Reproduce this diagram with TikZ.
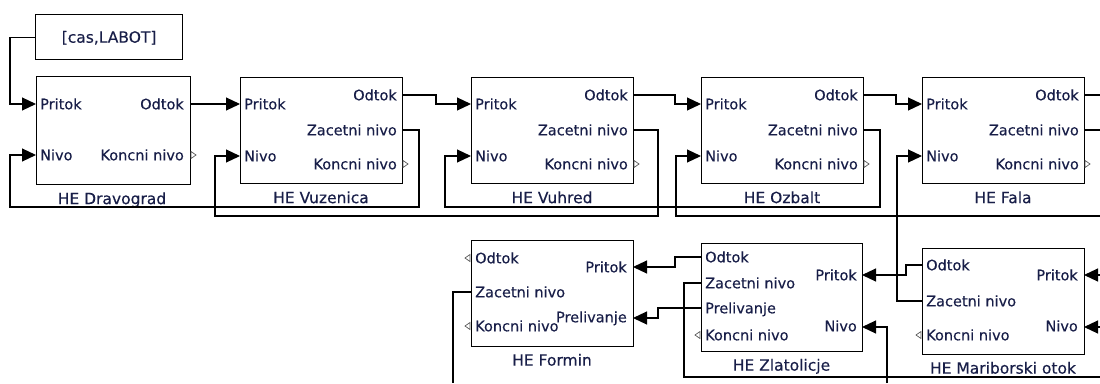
\documentclass[tikz,border=0pt]{standalone}
\usepackage{fontspec}
\setmainfont{DejaVu Sans}
\newfontfamily\lblfont{DejaVu Sans}[FakeBold=0.3]
\usetikzlibrary{arrows.meta}
\definecolor{txt}{RGB}{24,30,72}
\begin{document}
\begin{tikzpicture}[x=1pt,y=-1pt,
  blk/.style={draw=black, line width=1.2pt, fill=white, inner sep=0pt, anchor=north west},
  plab/.style={text=txt, font=\lblfont\fontsize{14.5}{16}\selectfont, inner sep=0pt, text height=10.6pt, text depth=0pt},
  ttl/.style={text=txt, font=\lblfont\fontsize{15.5}{17}\selectfont, inner sep=0pt, text height=11.2pt, text depth=0pt},
  wire/.style={draw=black, line width=1.1pt},
  arr/.style={wire, -{Triangle[length=14pt,width=13pt]}},
  oport/.style={draw=black!65, line width=0.7pt, fill=white},
  openR/.pic={\draw[oport] (1,-3.5) -- (6,0) -- (1,3.5) -- cycle;},
  openL/.pic={\draw[oport] (-1,-3.5) -- (-6,0) -- (-1,3.5) -- cycle;}
]
% canvas
\fill[white] (0,0) rectangle (1100,383);
\useasboundingbox (0,0) rectangle (1100,383);

% ---------------- blocks ----------------
\node[blk, minimum width=147, minimum height=45] (lab) at (35,14) {};
\node[ttl] (labtxt) at (lab.center) {[cas,LABOT]};

\node[blk, minimum width=154, minimum height=108] (drav) at (36,76) {};
\node[blk, minimum width=162, minimum height=106] (vuz) at (240,77) {};
\node[blk, minimum width=162, minimum height=106] (vuh) at (471,77) {};
\node[blk, minimum width=162, minimum height=106] (ozb) at (701,77) {};
\node[blk, minimum width=162, minimum height=106] (fala) at (922,77) {};
\node[blk, minimum width=162, minimum height=106] (for) at (471,240) {};
\node[blk, minimum width=161, minimum height=108] (zla) at (701,243) {};
\node[blk, minimum width=162, minimum height=106] (mar) at (922,248) {};

% ---------------- ports ----------------
\coordinate (drav-pr) at (36,104);  \coordinate (drav-nv) at (36,155);
\coordinate (drav-od) at (190,104); \coordinate (drav-kn) at (190,155);

\coordinate (vuz-pr) at (240,104); \coordinate (vuz-nv) at (240,156);
\coordinate (vuz-od) at (402,95);  \coordinate (vuz-zn) at (402,130); \coordinate (vuz-kn) at (402,164);

\coordinate (vuh-pr) at (471,104); \coordinate (vuh-nv) at (471,156);
\coordinate (vuh-od) at (633,95);  \coordinate (vuh-zn) at (633,130); \coordinate (vuh-kn) at (633,164);

\coordinate (ozb-pr) at (701,104); \coordinate (ozb-nv) at (701,156);
\coordinate (ozb-od) at (863,95);  \coordinate (ozb-zn) at (863,130); \coordinate (ozb-kn) at (863,164);

\coordinate (fala-pr) at (922,104); \coordinate (fala-nv) at (922,156);
\coordinate (fala-od) at (1084,95); \coordinate (fala-zn) at (1084,130); \coordinate (fala-kn) at (1084,164);

\coordinate (for-od) at (471,258); \coordinate (for-zn) at (471,292); \coordinate (for-kn) at (471,326);
\coordinate (for-pr) at (633,267); \coordinate (for-pl) at (633,318);

\coordinate (zla-od) at (701,257); \coordinate (zla-zn) at (701,283);
\coordinate (zla-pl) at (701,308); \coordinate (zla-kn) at (701,335);
\coordinate (zla-pr) at (862,275); \coordinate (zla-nv) at (862,327);

\coordinate (mar-od) at (922,265); \coordinate (mar-zn) at (922,301); \coordinate (mar-kn) at (922,335);
\coordinate (mar-pr) at (1084,275); \coordinate (mar-nv) at (1084,327);

% signals continuing beyond the visible area
\coordinate (offA) at (1100,216);
\coordinate (offB) at (1100,95);
\coordinate (offC) at (1100,130);
\coordinate (offD) at (1100,275);
\coordinate (offE) at (1100,327);
\coordinate (offF) at (1100,377);
\coordinate (offG) at (887,383);
\coordinate (offH) at (453,383);

% ---------------- port labels ----------------
\node[plab, anchor=west] at (40,104) {Pritok};
\node[plab, anchor=west] at (40,155) {Nivo};
\node[plab, anchor=east] at (184,104) {Odtok};
\node[plab, anchor=east] at (184,155) {Koncni nivo};

\foreach \b/\l/\r in {vuz/240/402, vuh/471/633, ozb/701/863, fala/922/1084}{
  \node[plab, anchor=west] at (\l+4,104) {Pritok};
  \node[plab, anchor=west] at (\l+4,156) {Nivo};
  \node[plab, anchor=east] at (\r-5,95) {Odtok};
  \node[plab, anchor=east] at (\r-5,130) {Zacetni nivo};
  \node[plab, anchor=east] at (\r-5,164) {Koncni nivo};
}

\node[plab, anchor=west] at (475,258) {Odtok};
\node[plab, anchor=west] at (475,292) {Zacetni nivo};
\node[plab, anchor=west] at (475,326) {Koncni nivo};
\node[plab, anchor=east] at (627,267) {Pritok};
\node[plab, anchor=east] at (627,317) {Prelivanje};

\node[plab, anchor=west] at (705,257) {Odtok};
\node[plab, anchor=west] at (705,283) {Zacetni nivo};
\node[plab, anchor=west] at (705,308) {Prelivanje};
\node[plab, anchor=west] at (705,335) {Koncni nivo};
\node[plab, anchor=east] at (857,275) {Pritok};
\node[plab, anchor=east] at (857,326) {Nivo};

\node[plab, anchor=west] at (926,265) {Odtok};
\node[plab, anchor=west] at (926,301) {Zacetni nivo};
\node[plab, anchor=west] at (926,335) {Koncni nivo};
\node[plab, anchor=east] at (1078,275) {Pritok};
\node[plab, anchor=east] at (1078,326) {Nivo};

% ---------------- block titles ----------------
\node[ttl] (drav-t) at (112,198.5) {HE Dravograd};
\node[ttl] (vuz-t) at (321,197.5) {HE Vuzenica};
\node[ttl] (vuh-t) at (552,197.5) {HE Vuhred};
\node[ttl] (ozb-t) at (782,197.5) {HE Ozbalt};
\node[ttl] (fala-t) at (1003,197.5) {HE Fala};
\node[ttl] (for-t) at (552,360) {HE Formin};
\node[ttl] (zla-t) at (781.5,365) {HE Zlatolicje};
\node[ttl] (mar-t) at (1003,368) {HE Mariborski otok};

% ---------------- unconnected outputs ----------------
\pic at (drav-kn) {openR};
\pic at (vuz-kn) {openR};
\pic at (vuh-kn) {openR};
\pic at (ozb-kn) {openR};
\pic at (fala-kn) {openR};
\pic at (for-od) {openL};
\pic at (for-kn) {openL};
\pic at (zla-kn) {openL};
\pic at (mar-kn) {openL};

% ---------------- signal lines ----------------
\draw[arr] (lab.west) -- ++(-25,0) |- (drav-pr);
\draw[arr] (drav-od) -- (vuz-pr);
\draw[arr] (vuz-od) -- ++(34,0) |- (vuh-pr);
\draw[arr] (vuh-od) -- ++(42,0) |- (ozb-pr);
\draw[arr] (ozb-od) -- ++(33,0) |- (fala-pr);
\draw[wire] (fala-od) -- (offB);
\draw[wire] (fala-zn) -- (offC);

% level feedback from each downstream plant
\draw[arr] (vuz-zn) -- ++(17,0) -- ++(0,77) -| ([xshift=-26pt]drav-nv) -- (drav-nv);
\draw[arr] (vuh-zn) -- ++(25,0) -- ++(0,86) -| ([xshift=-25pt]vuz-nv) -- (vuz-nv);
\draw[arr] (ozb-zn) -- ++(17,0) -- ++(0,77) -| ([xshift=-26pt]vuh-nv) -- (vuh-nv);
\draw[arr] (offA) -| ([xshift=-25pt]ozb-nv) -- (ozb-nv);
\draw[arr] (mar-zn) -- ++(-25,0) |- (fala-nv);

% lower chain
\draw[arr] (offD) -- (mar-pr);
\draw[arr] (offE) -- (mar-nv);
\draw[arr] (mar-od) -- ++(-16,0) |- (zla-pr);
\draw[arr] (offG) |- (zla-nv);
\draw[wire] (zla-zn) -- ++(-17,0) |- (offF);
\draw[arr] (zla-od) -- ++(-26,0) |- (for-pr);
\draw[arr] (zla-pl) -- ++(-43,0) |- (for-pl);
\draw[wire] (for-zn) -| (offH);
\end{tikzpicture}
\end{document}
